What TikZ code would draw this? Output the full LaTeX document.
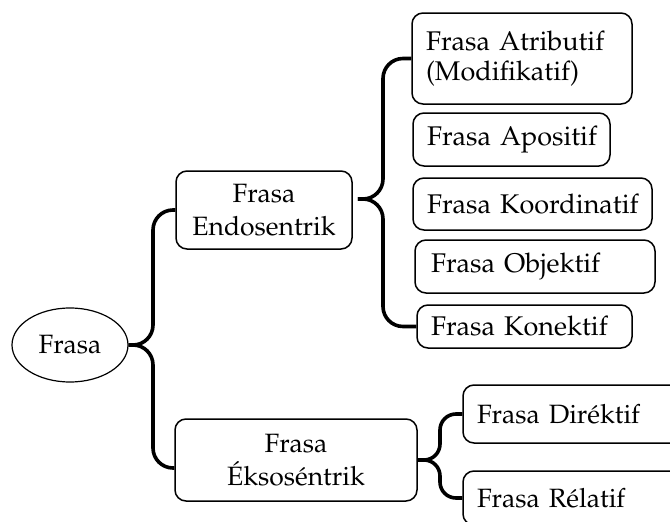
\documentclass[tikz,border=0pt]{standalone}
\usepackage[T1]{fontenc}
\usepackage{mathpazo}
\usetikzlibrary{calc,shapes.geometric}

\newcommand\besar{\fontsize{27}{30}\selectfont\hyphenpenalty=10000 }
\newcommand\kecil{\fontsize{26.5}{33}\selectfont\hyphenpenalty=10000 }

\begin{document}
\begin{tikzpicture}[x=1pt,y=-1pt,
	kotak/.style={draw, rounded corners=11pt, line width=1.5pt, inner xsep=14pt, inner ysep=0pt, align=left},
	kurung/.style={line width=3.6pt, rounded corners=20pt}]
	\def\xa{153}
	\def\xb{383}
	\def\xc{440}
\useasboundingbox (0,0) rectangle (670,522);
\clip (0,0) rectangle (670,522); % boxes on the right run off the page

%Akar
\node[draw, ellipse, line width=1.2pt, minimum width=116pt, minimum height=74pt, font=\kecil] (frasa) at (70,345) {Frasa};

%Tingkat kedua
\node[kotak, align=center, text width=148pt, minimum height=78pt, font=\kecil] (endo) at (264,210) {Frasa\\Endosentrik};
\node[kotak, align=center, text width=214pt, minimum height=82pt, font=\kecil] (eks) at (296,460) {Frasa\\\'Eksos\'entrik};

%Anak frasa endosentrik
\node[kotak, text width=192pt, minimum height=91pt, font=\besar] (atrib) at (522,58.5) {Frasa~Atributif\\(Modifikatif)};
\node[kotak, text width=169pt, minimum height=53pt, font=\besar] (apos) at (511.5,139.5) {Frasa~Apositif};
\node[kotak, text width=211pt, minimum height=52pt, font=\besar] (koor) at (532.5,204) {Frasa~Koordinatif};
\node[kotak, text width=208pt, minimum height=53pt, inner xsep=16pt, font=\besar] (obje) at (535,266.5) {Frasa~Objektif};
\node[kotak, text width=187pt, minimum height=43pt, font=\besar] (kone) at (524.5,326.5) {Frasa~Konektif};

%Anak frasa eksosentrik
\node[kotak, text width=209pt, minimum height=58pt, font=\kecil] (dire) at (581.5,414) {Frasa~Dir\'ektif};
\node[kotak, text width=209pt, minimum height=54pt, font=\kecil] (rela) at (581.5,498) {Frasa~R\'elatif};

%Kurung kurawal
\coordinate (v1) at (\xa,0);
\coordinate (v2) at (\xb,0);
\coordinate (v3) at (\xc,0);
\coordinate (t2) at ($(endo.east)+(5,-11)$);
\coordinate (e1) at ([yshift=-8pt]eks.west);

\draw[kurung] (endo.west) -- (endo.west -| v1) -- (frasa.east -| v1) -- (frasa.east);
\draw[kurung] (frasa.east) -- (frasa.east -| v1) -- (e1 -| v1) -- (e1);

\draw[kurung] (atrib.west) -- (atrib.west -| v2) -- (t2 -| v2) -- (t2);
\draw[kurung] (t2) -- (t2 -| v2) -- (kone.west -| v2) -- (kone.west);

\draw[kurung, rounded corners=16pt] (dire.west) -- (dire.west -| v3) -- (eks.east -| v3) -- (eks.east);
\draw[kurung, rounded corners=16pt] (eks.east) -- (eks.east -| v3) -- (rela.west -| v3) -- (rela.west);

\end{tikzpicture}
\end{document}
